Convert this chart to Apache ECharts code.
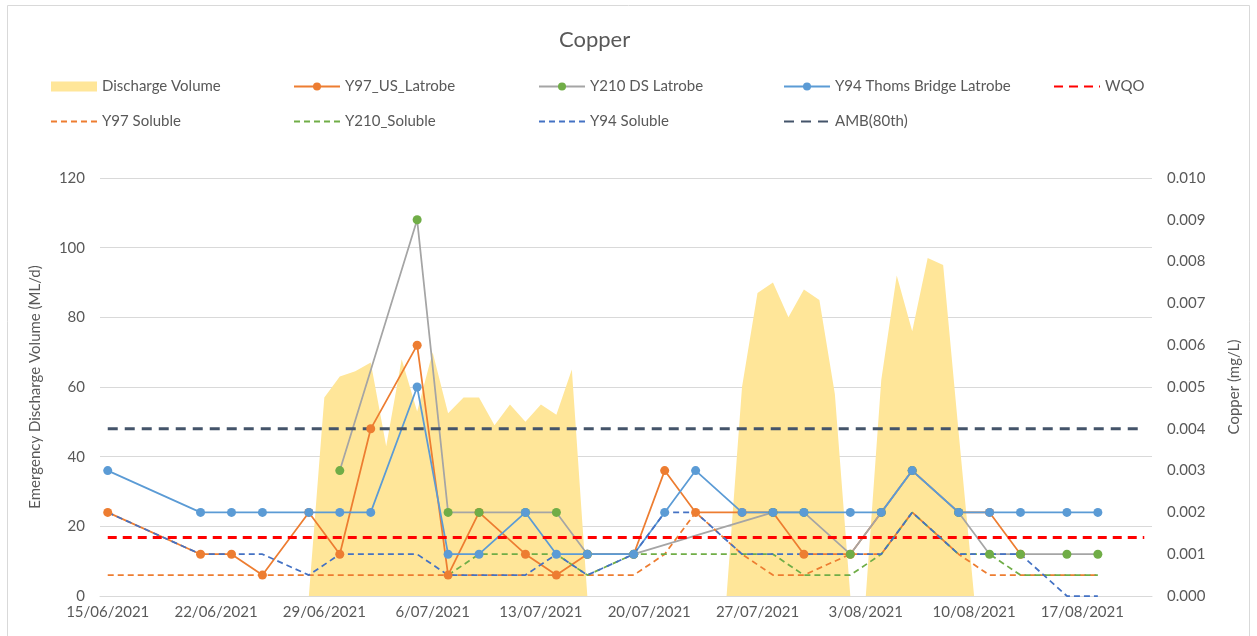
<!DOCTYPE html>
<html>
<head>
<meta charset="utf-8">
<title>Copper</title>
<script src="https://cdn.jsdelivr.net/npm/echarts@6/dist/echarts.min.js"></script>
<style>
  html, body { margin: 0; padding: 0; background: #fff; }
  #chart { width: 1257px; height: 636px; }
</style>
</head>
<body>
<div id="chart"></div>
<script>
// daily categories, 15/06/2021 .. 21/08/2021
const days = []
for (let d = new Date(2021, 5, 15); d <= new Date(2021, 7, 21); d.setDate(d.getDate() + 1)) {
  days.push(d.getDate() + '/' + String(d.getMonth() + 1).padStart(2, '0') + '/' + d.getFullYear())
}

// emergency discharge volume (ML/d), one value per day
const discharge = [
  0, 0, 0, 0, 0, 0, 0, 0, 0, 0, 0, 0, 0, 0,
  57, 63, 64.5, 67, 43, 68, 53, 70, 52.5, 57, 57, 49, 55, 50, 55, 52, 65,
  0, 0, 0, 0, 0, 0, 0, 0, 0, 0,
  60, 87, 90, 80, 88, 85, 58,
  0, 0,
  62, 92, 76, 97, 95, 47,
  0, 0, 0, 0, 0, 0, 0, 0, 0, 0, 0, 0
]

// sampling dates and copper results (mg/L)
const sampleDates = ['15/06/2021', '21/06/2021', '23/06/2021', '25/06/2021', '28/06/2021', '30/06/2021',
  '2/07/2021', '5/07/2021', '7/07/2021', '9/07/2021', '12/07/2021', '14/07/2021', '16/07/2021',
  '19/07/2021', '21/07/2021', '23/07/2021', '26/07/2021', '28/07/2021', '30/07/2021', '2/08/2021',
  '4/08/2021', '6/08/2021', '9/08/2021', '11/08/2021', '13/08/2021', '16/08/2021', '18/08/2021']

const y97 = [0.002, 0.001, 0.001, 0.0005, 0.002, 0.001, 0.004, 0.006, 0.0005, 0.002, 0.001, 0.0005, 0.001,
  0.001, 0.003, 0.002, 0.002, 0.002, 0.001, 0.001, 0.002, 0.003, 0.002, 0.002, 0.001, null, null]
const y210 = [null, null, null, null, null, 0.003, null, 0.009, 0.002, 0.002, 0.002, 0.002, 0.001,
  0.001, null, null, null, 0.002, 0.002, 0.001, 0.002, 0.003, 0.002, 0.001, 0.001, 0.001, 0.001]
const y94 = [0.003, 0.002, 0.002, 0.002, 0.002, 0.002, 0.002, 0.005, 0.001, 0.001, 0.002, 0.001, 0.001,
  0.001, 0.002, 0.003, 0.002, 0.002, 0.002, 0.002, 0.002, 0.003, 0.002, 0.002, 0.002, 0.002, 0.002]
const y97Sol = [0.0005, 0.0005, 0.0005, 0.0005, 0.0005, 0.0005, 0.0005, 0.0005, 0.0005, 0.0005, 0.0005, 0.0005, 0.0005,
  0.0005, 0.001, 0.002, 0.001, 0.0005, 0.0005, 0.001, 0.001, 0.002, 0.001, 0.0005, 0.0005, 0.0005, 0.0005]
const y210Sol = [null, null, null, null, null, null, null, null, 0.0005, 0.001, 0.001, 0.001, 0.0005,
  0.001, 0.001, 0.001, 0.001, 0.001, 0.0005, 0.0005, 0.001, 0.002, 0.001, 0.001, 0.0005, 0.0005, 0.0005]
const y94Sol = [0.002, 0.001, 0.001, 0.001, 0.0005, 0.001, 0.001, 0.001, 0.0005, 0.0005, 0.0005, 0.001, 0.0005,
  0.001, 0.002, 0.002, 0.001, 0.001, 0.001, 0.001, 0.001, 0.002, 0.001, 0.001, 0.001, 0, 0]

// guideline values (mg/L)
const wqo = 0.0014
const amb80 = 0.004

const font = 'Lato'
const grey = '#595959'

function pairs(vals) {
  return sampleDates.map((d, i) => [d, vals[i]]).filter(p => p[1] != null)
}

function marked(name, vals, lineColor, dotColor) {
  return {
    name: name,
    type: 'line',
    yAxisIndex: 1,
    data: pairs(vals),
    symbol: 'circle',
    symbolSize: 9,
    showAllSymbol: true,
    lineStyle: { width: 1.75, color: lineColor },
    itemStyle: { color: dotColor }
  }
}

function dashed(name, data, color, width, dash) {
  return {
    name: name,
    type: 'line',
    yAxisIndex: 1,
    data: data,
    symbol: 'none',
    lineStyle: { width: width, color: color, type: dash },
    itemStyle: { color: color }
  }
}

// legend entry for a dashed line: keep the line, hide the dot
function lineOnly(name) {
  return { name: name, itemStyle: { opacity: 0 } }
}

const chart = echarts.init(document.getElementById('chart'))

const legendBase = {
  orient: 'vertical',
  top: 74,
  itemWidth: 46,
  itemHeight: 10,
  itemGap: 20,
  selectedMode: false,
  textStyle: { color: grey, fontSize: 15, fontFamily: font }
}

chart.setOption({
  animation: false,
  textStyle: { fontFamily: font },
  title: {
    text: 'Copper',
    left: 554,
    top: 24,
    textStyle: { color: grey, fontSize: 22, fontWeight: 'normal', fontFamily: font }
  },
  graphic: [{
    type: 'rect',
    shape: { x: 7.5, y: 5.5, width: 1242, height: 640 },
    style: { fill: 'none', stroke: '#d9d9d9', lineWidth: 1 },
    silent: true
  }],
  legend: [
    Object.assign({ left: 45, data: [{ name: 'Discharge Volume', icon: 'rect' }, lineOnly('Y97 Soluble')] }, legendBase),
    Object.assign({ left: 288, data: ['Y97_US_Latrobe', lineOnly('Y210_Soluble')] }, legendBase),
    Object.assign({ left: 533, data: ['Y210 DS Latrobe', lineOnly('Y94 Soluble')] }, legendBase),
    Object.assign({ left: 778, data: ['Y94 Thoms Bridge Latrobe', lineOnly('AMB(80th)')] }, legendBase),
    Object.assign({ left: 1048, data: [lineOnly('WQO')] }, legendBase)
  ],
  grid: { left: 100, right: 105, top: 178, bottom: 40 },
  xAxis: {
    type: 'category',
    data: days,
    boundaryGap: true,
    axisLine: { lineStyle: { color: '#d9d9d9' } },
    axisTick: { interval: 6, length: 5, lineStyle: { color: '#d9d9d9' } },
    axisLabel: { interval: 6, color: grey, fontSize: 15, margin: 9, fontFamily: font }
  },
  yAxis: [
    {
      type: 'value',
      min: 0,
      max: 120,
      interval: 20,
      name: 'Emergency Discharge Volume (ML/d)',
      nameLocation: 'middle',
      nameRotate: 90,
      nameGap: 57,
      nameTextStyle: { color: grey, fontSize: 15, fontFamily: font },
      axisLabel: { color: grey, fontSize: 15, margin: 15, fontFamily: font },
      axisLine: { show: false },
      axisTick: { show: false },
      splitLine: { lineStyle: { color: '#d9d9d9' } }
    },
    {
      type: 'value',
      min: 0,
      max: 0.01,
      interval: 0.001,
      name: 'Copper (mg/L)',
      nameLocation: 'middle',
      nameRotate: 90,
      nameGap: 75,
      nameTextStyle: { color: grey, fontSize: 15, fontFamily: font },
      axisLabel: { color: grey, fontSize: 15, margin: 15, fontFamily: font, formatter: v => v.toFixed(3) },
      axisLine: { show: false },
      axisTick: { show: false },
      splitLine: { show: false }
    }
  ],
  series: [
    {
      name: 'Discharge Volume',
      type: 'line',
      data: discharge,
      symbol: 'none',
      lineStyle: { width: 0, opacity: 0 },
      itemStyle: { color: '#ffe699' },
      areaStyle: { color: '#ffe699', opacity: 1 }
    },
    marked('Y97_US_Latrobe', y97, '#ed7d31', '#ed7d31'),
    marked('Y210 DS Latrobe', y210, '#a5a5a5', '#70ad47'),
    marked('Y94 Thoms Bridge Latrobe', y94, '#5b9bd5', '#5b9bd5'),
    dashed('WQO', [[days[0], wqo], [days[days.length - 1], wqo]], '#ff0000', 3, [9, 6]),
    dashed('Y97 Soluble', pairs(y97Sol), '#ed7d31', 1.75, [6, 4]),
    dashed('Y210_Soluble', pairs(y210Sol), '#70ad47', 1.75, [6, 4]),
    dashed('Y94 Soluble', pairs(y94Sol), '#4472c4', 1.75, [6, 4]),
    dashed('AMB(80th)', [[days[0], amb80], [days[days.length - 1], amb80]], '#44546a', 3, [10, 7])
  ]
})
</script>
</body>
</html>
